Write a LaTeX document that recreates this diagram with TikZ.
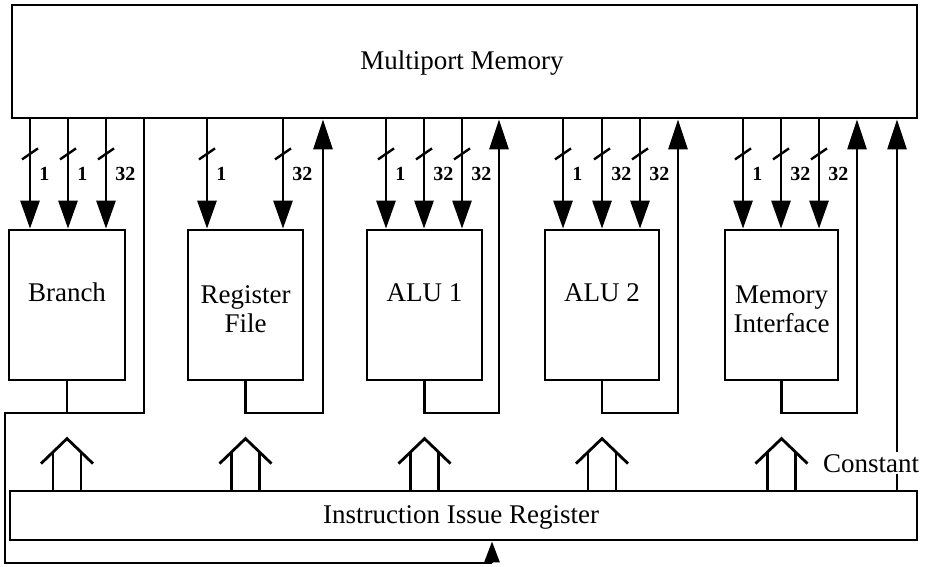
\documentclass[tikz,border=0pt]{standalone}
\usepackage{fontspec}
\setmainfont{Liberation Serif}
\usetikzlibrary{arrows.meta,calc}
\begin{document}
\begin{tikzpicture}[x=1pt,y=-1pt,line width=2.8pt,line cap=butt,
  unit/.style={draw,rectangle,inner sep=0pt,minimum height=150pt},
  txt/.style={inner sep=0pt,font=\fontsize{27}{29}\selectfont,align=center},
  lab/.style={inner sep=0pt,font=\fontsize{20}{22}\selectfont\bfseries},
  darr/.style={-{Triangle[width=19pt,length=28pt]}},
  uarr/.style={-{Triangle[width=19pt,length=30pt]}},
  sarr/.style={-{Triangle[width=15pt,length=21pt]}},
  slash/.style={line width=2.4pt}]
\useasboundingbox (0,0) rectangle (925,566);
% main blocks
\node[draw,rectangle,inner sep=0pt,minimum width=905pt,minimum height=113pt] (mem) at (464.5,61.5) {};
\node[unit,minimum width=116pt] (br) at (67,305) {};
\node[unit,minimum width=115pt] (rf) at (245.5,305) {};
\node[unit,minimum width=115pt] (alu1) at (424.5,305) {};
\node[unit,minimum width=114pt] (alu2) at (602,305) {};
\node[unit,minimum width=113pt] (mi) at (781.5,305) {};
\node[draw,rectangle,inner sep=0pt,minimum width=907pt,minimum height=49pt] (iir) at (463.5,515.5) {};
% texts
\node[txt,anchor=base] at (462,69) {Multiport Memory};
\node[txt,anchor=base] at ($(br.north)+(0,73)$) {Branch};
\node[txt] at ($(rf.north)+(0,81)$) {Register\\File};
\node[txt,anchor=base] at ($(alu1.north)+(0,73)$) {ALU 1};
\node[txt,anchor=base] at ($(alu2.north)+(0,73)$) {ALU 2};
\node[txt] at ($(mi.north)+(0,81)$) {Memory\\Interface};
\node[txt,anchor=base] at (461,523) {Instruction Issue Register};
% downward buses from memory
\foreach \x/\l/\t in {30/1/br,68/1/br,106/32/br,207/1/rf,283/32/rf,386/1/alu1,424/32/alu1,462/32/alu1,563/1/alu2,602/32/alu2,640/32/alu2,743/1/mi,781/32/mi,819/32/mi}{
  \coordinate (c) at (\x,0);
  \draw[darr] (c |- mem.south) -- (c |- \t.north);
  \draw[slash] ($(c |- mem.south)+(-8,40)$) -- ($(c |- mem.south)+(8,29)$);
  \node[lab,anchor=base west] at ($(c |- mem.south)+(8,61)$) {\l};
}
% results back to memory
\coordinate (r0) at (144,413);
\draw (br.south) |- (r0) -- (r0 |- mem.south);
\foreach \r/\t in {323/rf,499/alu1,678/alu2,857/mi}{
  \coordinate (r) at (\r,413);
  \draw[uarr] (\t.south) |- (r) -- (r |- mem.south);
}
% branch loop to instruction issue register
\coordinate (lt) at (5,413);
\coordinate (lb) at (5,563);
\coordinate (bt) at (492,563);
\draw[line join=miter] (br.south |- lt) -- (lt) -- (lb) -- (bt);
\draw[sarr] (bt) -- (bt |- iir.south);
% constant
\coordinate (k) at (897,0);
\draw[uarr] (k |- iir.north) -- (k |- mem.south);
\node[txt,anchor=base,fill=white,inner sep=2pt] at (871,472) {Constant};
% hollow issue arrows
\foreach \t in {br,rf,alu1,alu2,mi}{
  \coordinate (b) at (\t.south |- iir.north);
  \draw[line join=miter] ($(b)+(-26,-26)$) -- ($(b)+(0,-51)$) -- ($(b)+(26,-26)$);
  \draw ($(b)+(-14,-37.5)$) -- ($(b)+(-14,0)$);
  \draw ($(b)+(14,-37.5)$) -- ($(b)+(14,0)$);
}
\end{tikzpicture}
\end{document}
